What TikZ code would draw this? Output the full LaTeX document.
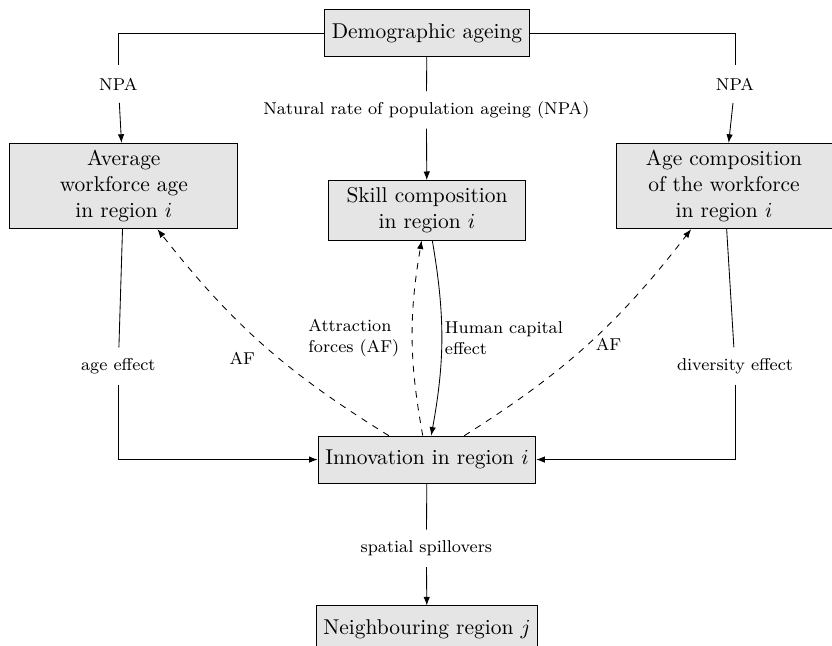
\documentclass[tikz,border=0pt]{standalone}
\usepackage{amsmath}
\usepackage{xcolor}
\usepackage{tikz}
\usetikzlibrary{arrows.meta,positioning}
\tikzset{
  box/.style={rectangle, draw, fill=gray!20, minimum height=0.77cm, align=center, inner sep=3.33pt},
  lbl/.style={font=\footnotesize, minimum height=0.6cm, inner sep=2pt},
  elbl/.style={font=\footnotesize, align=left},
  arrow/.style={-{Latex[length=4pt,width=3pt]}},
  dasharrow/.style={-{Latex[length=4pt,width=3pt]}, dashed},
}

\begin{document}
\begin{tikzpicture}
  \useasboundingbox (0,0) rectangle (13.64,-10.58);

  % Boxes
  \node[box] (demo) at (7.0,-0.54) {Demographic ageing};
  \node[box, minimum width=3.74cm] (avg) at (2.03,-3.05) {Average\\workforce age\\in region $i$};
  \node[box, minimum width=3.54cm] (agecomp) at (11.87,-3.05) {Age composition\\of the workforce\\in region $i$};
  \node[box, minimum width=3.23cm, below=2.02cm of demo] (skill) {Skill composition\\in region $i$};
  \node[box, below=3.2cm of skill] (innov) {Innovation in region $i$};
  \node[box, below=2.0cm of innov] (neigh) {Neighbouring region $j$};

  % Labels on the paths
  \node[lbl] (npaL) at (1.94,-1.38) {NPA};
  \node[lbl] (npaR) at (12.05,-1.38) {NPA};
  \node[lbl] (nrpa) at (6.99,-1.80) {Natural rate of population ageing (NPA)};
  \node[lbl] (ageeff) at (1.94,-6.0) {age effect};
  \node[lbl] (diveff) at (12.05,-6.0) {diversity effect};
  \node[lbl] (spill) at (6.99,-8.99) {spatial spillovers};

  % Arrows
  \draw (demo) -| (npaL);
  \draw[arrow] (npaL) -- (avg);
  \draw (demo) -| (npaR);
  \draw[arrow] (npaR) -- (agecomp);
  \draw (demo) -- (nrpa);
  \draw[arrow] (nrpa) -- (skill);

  \draw (avg) -- (ageeff);
  \draw[arrow] (ageeff) |- (innov);
  \draw (agecomp) -- (diveff);
  \draw[arrow] (diveff) |- (innov);

  \draw (innov) -- (spill);
  \draw[arrow] (spill) -- (neigh);

  % Attraction forces and feedback
  \draw[dasharrow] (innov) to[bend left=10] node[elbl, below left] {AF} (avg);
  \draw[dasharrow] (innov) to[bend right=10] node[elbl, right] {AF} (agecomp);
  \draw[dasharrow] (innov) to[bend left=10] node[elbl, left, xshift=-2.5pt] {Attraction\\forces (AF)} (skill);
  \draw[arrow] (skill) to[bend left=10] node[elbl, right, xshift=-2pt] {Human capital\\effect} (innov);

\end{tikzpicture}
\end{document}
